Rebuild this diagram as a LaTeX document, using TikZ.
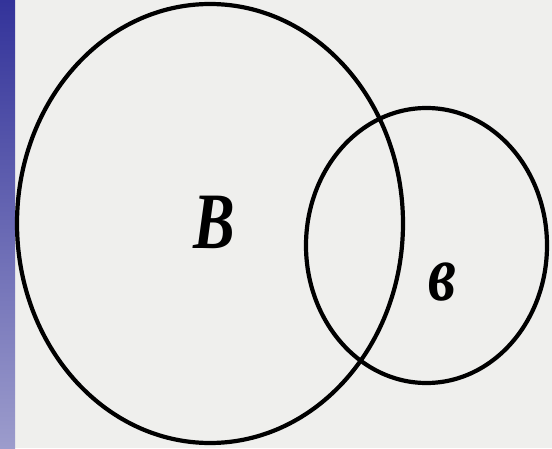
\documentclass[tikz,border=0pt]{standalone}
\usepackage{fontspec}
\setmainfont{Liberation Serif}
\definecolor{bg}{HTML}{EFEFED}
\definecolor{stripTop}{HTML}{33339A}
\definecolor{stripBot}{HTML}{9C9CCC}
\begin{document}
\begin{tikzpicture}[x=1pt,y=1pt,
  ring/.style={draw=black, line width=4.2pt},
  lbl/.style={inner sep=0pt, xscale=0.78, font=\fontsize{80}{80}\selectfont\bfseries\itshape}]
\useasboundingbox (0,0) rectangle (552,448);
\fill[bg] (0,0) rectangle (552,448);
\shade[top color=stripTop, bottom color=stripBot] (0,0) rectangle (15,448);
\draw[ring] (210,224.5) ellipse [x radius=193, y radius=219.5];
\draw[ring] (426.5,202.5) ellipse [x radius=120.5, y radius=137.5];
\node[lbl] (B) at (214,226) {B};
\node[lbl] (v) at (442,166) {в};
\end{tikzpicture}
\end{document}
